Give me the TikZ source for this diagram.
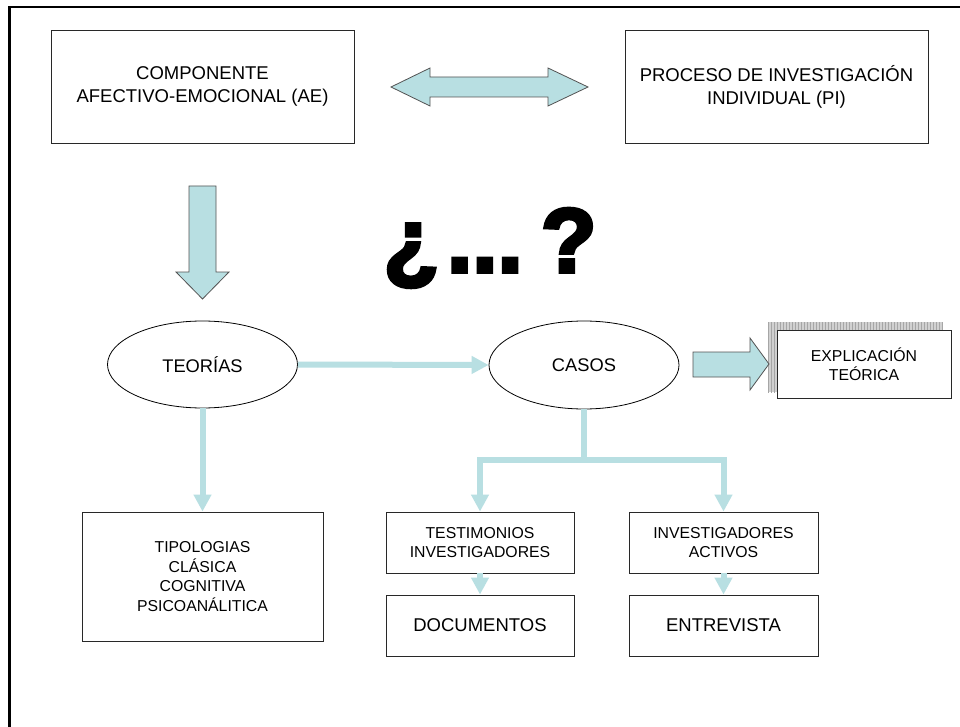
\documentclass[tikz,border=0pt]{standalone}
\usepackage{fontspec}
\setmainfont{Liberation Sans}
\newfontfamily\qfont{Liberation Sans}[BoldFeatures={FakeBold=4}]
\usetikzlibrary{arrows.meta,shapes.geometric,patterns}
\definecolor{lb}{RGB}{184,223,226}
\definecolor{edge}{RGB}{40,40,40}
\begin{document}
\begin{tikzpicture}[x=1pt,y=-1pt,
  box/.style={draw=edge, line width=0.9pt, fill=white, inner sep=0pt, align=center, font=\fontsize{18.5}{23}\selectfont},
  sbox/.style={box, font=\fontsize{15.8}{19.5}\selectfont},
  oval/.style={ellipse, draw=black, line width=0.8pt, inner sep=0pt, font=\fontsize{18.3}{22}\selectfont},
  conn/.style={draw=lb, line width=6pt, -{Triangle[length=17pt,width=17pt]}},
  blockarrow/.style={fill=lb, draw=edge!80, line width=0.8pt, line join=miter}]
\useasboundingbox (0,0) rectangle (960,727);
\fill[white] (0,0) rectangle (960,727);
% frame
\draw[line width=2.5pt, line join=miter] (9.7,740) -- (9.7,7) -- (975,7);

% top boxes
\node[box, minimum width=303pt, minimum height=113pt] (ae) at (202.5,86.5) {COMPONENTE\\AFECTIVO-EMOCIONAL (AE)};
\node[box, minimum width=303pt, minimum height=113pt] (pi) at (776.5,86.5) {PROCESO DE INVESTIGACIÓN\\INDIVIDUAL (PI)};

% double arrow
\draw[blockarrow] (391,87) -- (430,68) -- (430,77) -- (548,77) -- (548,68) -- (588,87) -- (548,106) -- (548,97) -- (430,97) -- (430,106) -- cycle;
% down arrow
\draw[blockarrow] (189,186) -- (216,186) -- (216,272) -- (229,272) -- (202.5,299) -- (176,272) -- (189,272) -- cycle;

% question
\node[anchor=base, inner sep=0pt, font=\qfont\bfseries\fontsize{91}{91}\selectfont] (q) at (490,272) {¿\kern8pt.\kern0pt.\kern0pt.\kern18pt?};

% ellipses
\node[oval, minimum width=190pt, minimum height=87pt] (teo) at (202.5,364.5) {TEORÍAS};
\node[oval, minimum width=190pt, minimum height=88pt] (cas) at (584,365) {CASOS};

% explicacion
\fill[black!18] (768,322) rectangle (943,392);
\fill[pattern=vertical lines, pattern color=black!35] (768,322) rectangle (943,392);
\node[sbox, minimum width=174pt, minimum height=68pt] (exp) at (864,364) {EXPLICACIÓN\\TEÓRICA};
\draw[blockarrow] (693,352) -- (750,352) -- (750,338) -- (769,364) -- (750,390) -- (750,377) -- (693,377) -- cycle;

% lower boxes
\node[sbox, minimum width=241pt, minimum height=129pt] (tip) at (202.5,576.5) {TIPOLOGIAS\\CLÁSICA\\COGNITIVA\\PSICOANÁLITICA};
\node[sbox, minimum width=188pt, minimum height=61pt] (tes) at (480,542.5) {TESTIMONIOS\\INVESTIGADORES};
\node[box, minimum width=188pt, minimum height=61pt] (doc) at (480,625.5) {DOCUMENTOS};
\node[sbox, minimum width=189pt, minimum height=61pt] (inv) at (723.5,542.5) {INVESTIGADORES\\ACTIVOS};
\node[box, minimum width=189pt, minimum height=61pt] (ent) at (723.5,625.5) {ENTREVISTA};

% connectors
\coordinate (j) at (cas.south |- 0,460);
\draw[conn] (teo.south) -- (tip.north);
\draw[conn] (teo.east) -- (cas.west);
\draw[conn, line join=miter] (cas.south) -- (j) -| (tes.north);
\draw[conn, line join=miter] (j) -| (inv.north);
\draw[conn] (tes.south) -- (doc.north);
\draw[conn] (inv.south) -- (ent.north);
\end{tikzpicture}
\end{document}
